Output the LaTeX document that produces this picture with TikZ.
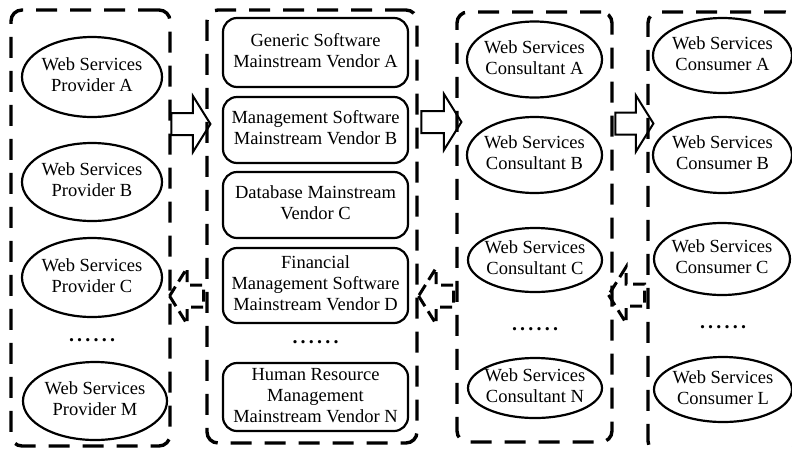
\documentclass[tikz,border=0pt]{standalone}
\usepackage{fontspec}
\setmainfont{Liberation Serif}
\usetikzlibrary{shapes.geometric,shapes.arrows}

% two or three centred lines that do not widen the surrounding shape
\newcommand\lines[1]{\makebox[0pt]{\begin{tabular}{@{}c@{}}#1\end{tabular}}}
% the row of dots that stands for the omitted members of a column
\newcommand\moredots{.\kern3.2pt.\kern3.2pt.\kern3.2pt.\kern3.2pt.\kern3.2pt.}

\tikzset{
  every node/.style={font=\fontsize{18.5}{21}\selectfont},
  groupbox/.style={draw, line width=3.4pt, dash pattern=on 21pt off 13pt,
    rounded corners=11pt, inner sep=0pt},
  actor/.style={ellipse, draw, line width=2.2pt, inner sep=0pt},
  vendorbox/.style={rectangle, draw, line width=2.2pt, rounded corners=14pt,
    minimum width=185pt, inner sep=0pt},
  dotrow/.style={anchor=base, font=\fontsize{20}{21}\selectfont\bfseries},
  flowright/.style={single arrow, draw, line width=2pt, inner sep=10pt,
    single arrow head extend=17pt, single arrow tip angle=116},
  flowleft/.style={flowright, shape border rotate=180, line width=3pt,
    inner sep=9.5pt, dash pattern=on 12pt off 6pt},
}

\begin{document}
\begin{tikzpicture}[x=1pt,y=-1pt]
\useasboundingbox (0,0) rectangle (792,448);

% the four columns
\node[groupbox, minimum width=159pt, minimum height=436pt] (g1) at (90.5,228) {};
\node[groupbox, minimum width=210pt, minimum height=433pt] (g2) at (312,226.5) {};
\node[groupbox, minimum width=155pt, minimum height=430pt] (g3) at (534.5,227) {};
\node[groupbox, minimum width=148pt, minimum height=440pt] (g4) at (722,232) {};

% providers
\node[actor, minimum width=140pt, minimum height=80pt] (pa) at (92,77) {\lines{Web Services\\Provider A}};
\node[actor, minimum width=140pt, minimum height=78pt] (pb) at (92,182) {\lines{Web Services\\Provider B}};
\node[actor, minimum width=140pt, minimum height=79pt] (pc) at (92,277.5) {\lines{Web Services\\Provider C}};
\node[dotrow] (pd) at (92,341) {\moredots};
\node[actor, minimum width=144pt, minimum height=78pt] (pm) at (95,401) {\lines{Web Services\\Provider M}};

% vendors
\node[vendorbox, minimum height=69pt] (va) at (315.5,52.5) {\lines{Generic Software\\Mainstream Vendor A}};
\node[vendorbox, minimum height=66pt] (vb) at (315.5,130) {\lines{Management Software\\Mainstream Vendor B}};
\node[vendorbox, minimum height=66pt] (vc) at (315.5,205) {\lines{Database Mainstream\\Vendor C}};
\node[vendorbox, minimum height=75pt] (vd) at (315.5,285.5) {\lines{Financial\\Management Software\\Mainstream Vendor D}};
\node[dotrow] (vdots) at (315.5,343) {\moredots};
\node[vendorbox, minimum height=68pt] (vn) at (315.5,397) {\lines{Human Resource\\Management\\Mainstream Vendor N}};

% consultants
\node[actor, minimum width=135pt, minimum height=76pt] (ca) at (534.5,59.5) {\lines{Web Services\\Consultant A}};
\node[actor, minimum width=135pt, minimum height=76pt] (cb) at (534.5,155) {\lines{Web Services\\Consultant B}};
\node[actor, minimum width=134pt, minimum height=64pt] (cc) at (535,260) {\lines{Web Services\\Consultant C}};
\node[dotrow] (cdots) at (535,330) {\moredots};
\node[actor, minimum width=134pt, minimum height=60pt] (cn) at (535,388) {\lines{Web Services\\Consultant N}};

% consumers
\node[actor, minimum width=139pt, minimum height=75pt] (ua) at (722.5,55.5) {\lines{Web Services\\Consumer A}};
\node[actor, minimum width=139pt, minimum height=76pt] (ub) at (722.5,155) {\lines{Web Services\\Consumer B}};
\node[actor, minimum width=136pt, minimum height=72pt] (uc) at (722,259) {\lines{Web Services\\Consumer C}};
\node[dotrow] (udots) at (723,328) {\moredots};
\node[actor, minimum width=138pt, minimum height=65pt] (ul) at (723,389.5) {\lines{Web Services\\Consumer L}};

% forward flow between columns
\node[flowright, minimum height=39pt] (f1) at (187.5,124) {};
\node[flowright, minimum height=40pt] (f2) at (438,122) {};
\node[flowright, minimum height=38pt] (f3) at (631,123.5) {};

% feedback flow between columns
\node[flowleft, minimum height=34pt] (b1) at (190,296) {};
\node[flowleft, minimum height=35pt] (b2) at (439.5,296) {};
\node[flowleft, minimum height=36pt] (b3) at (630,295) {};
\end{tikzpicture}
\end{document}
